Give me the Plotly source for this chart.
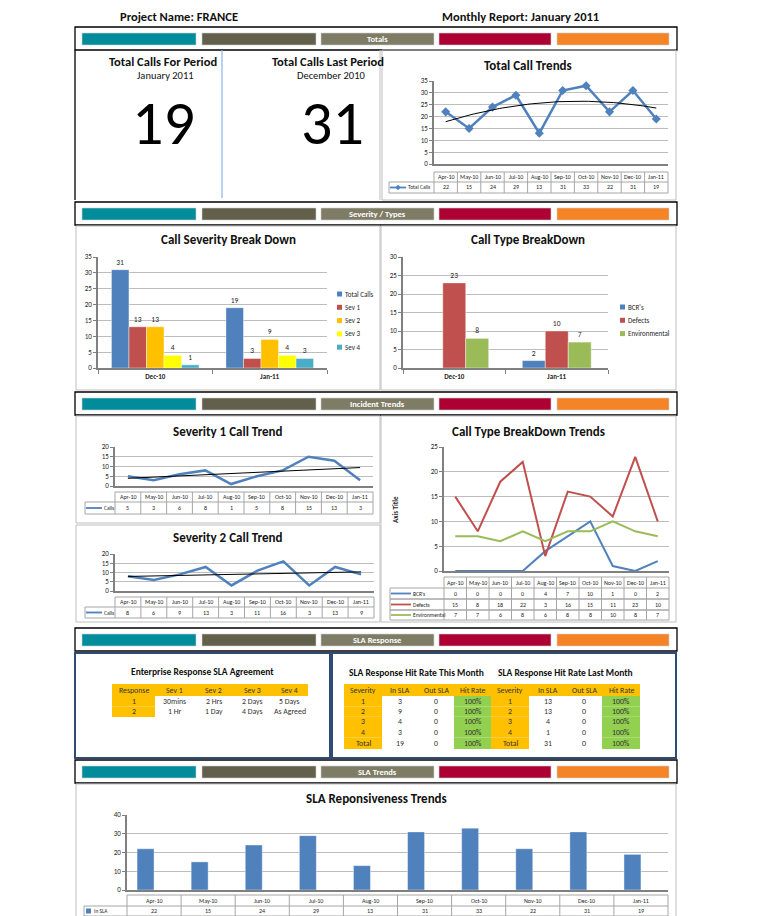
import numpy as np
import plotly.graph_objects as go

W, H = 758, 916
FONT = "Carlito, Lato, 'Open Sans', sans-serif"
TXT = "#262626"

# ---------------- data ----------------
project_name = "FRANCE"
report_month = "January 2011"
current_period = "January 2011"
last_period = "December 2010"
calls_this_period = 19
calls_last_period = 31

months = ["Apr-10", "May-10", "Jun-10", "Jul-10", "Aug-10", "Sep-10", "Oct-10", "Nov-10", "Dec-10", "Jan-11"]
total_calls = [22, 15, 24, 29, 13, 31, 33, 22, 31, 19]
sev1_calls = [5, 3, 6, 8, 1, 5, 8, 15, 13, 3]
sev2_calls = [8, 6, 9, 13, 3, 11, 16, 3, 13, 9]
bcr_calls = [0, 0, 0, 0, 4, 7, 10, 1, 0, 2]
defect_calls = [15, 8, 18, 22, 3, 16, 15, 11, 23, 10]
env_calls = [7, 7, 6, 8, 6, 8, 8, 10, 8, 7]
sla_in = [22, 15, 24, 29, 13, 31, 33, 22, 31, 19]
sla_out = [0, 0, 0, 0, 0, 0, 0, 0, 0, 0]

periods = ["Dec-10", "Jan-11"]
sev_names = ["Total Calls", "Sev 1", "Sev 2", "Sev 3", "Sev 4"]
sev_total = [31, 19]
sev_1 = [13, 3]
sev_2 = [13, 9]
sev_3 = [4, 4]
sev_4 = [1, 3]
type_names = ["BCR's", "Defects", "Environmental"]
type_bcr = [0, 2]
type_defects = [23, 10]
type_env = [8, 7]

agreement_header = ["Response", "Sev 1", "Sev 2", "Sev 3", "Sev 4"]
agreement_r1 = ["1", "30mins", "2 Hrs", "2 Days", "5 Days"]
agreement_r2 = ["2", "1 Hr", "1 Day", "4 Days", "As Agreed"]

hit_header = ["Severity", "In SLA", "Out SLA", "Hit Rate"]
hit_severity = ["1", "2", "3", "4", "Total"]
this_in = [3, 9, 4, 3, 19]
this_out = [0, 0, 0, 0, 0]
this_rate = ["100%", "100%", "100%", "100%", "100%"]
last_in = [13, 13, 4, 1, 31]
last_out = [0, 0, 0, 0, 0]
last_rate = ["100%", "100%", "100%", "100%", "100%"]

section_names = ["Totals", "Severity / Types", "Incident Trends", "SLA Response", "SLA Trends"]

# ---------------- styles ----------------
BLUE = "#4F81BD"
RED = "#C0504D"
GREEN = "#9BBB59"
ORANGE = "#FFC000"
YELLOW = "#FFFF00"
CYAN = "#4BACC6"
LIME = "#92D050"
GRID = "#BDBDBD"
AXIS = "#808080"
TBL = "#A6A6A6"
PANEL = "#BFBFBF"
NAVY = "#2F4A73"
BAND_COLORS = ["#008C9B", "#625F4A", "#7F7C65", "#AD0033", "#F58426"]
BAND_X = [(82, 196), (202, 316), (321, 434), (439, 551), (557, 669)]
TITLE = 13

shapes = []
annots = []
layout = {}


def X(p):
    return p / W


def Y(p):
    return 1 - p / H


def rect(x0, y0, x1, y1, fill=None, line=None, lw=1.0):
    shapes.append(dict(type="rect", xref="paper", yref="paper",
                       x0=X(x0), x1=X(x1), y0=Y(y1), y1=Y(y0),
                       fillcolor=fill if fill else "rgba(0,0,0,0)",
                       line=dict(color=line if line else "rgba(0,0,0,0)", width=lw if line else 0)))


def seg(x0, y0, x1, y1, color, w=1.0):
    shapes.append(dict(type="line", xref="paper", yref="paper",
                       x0=X(x0), x1=X(x1), y0=Y(y0), y1=Y(y1),
                       line=dict(color=color, width=w)))


def txt(x, y, s, size, bold=False, color=TXT, anchor="center", xref="paper", angle=0):
    annots.append(dict(x=X(x) if xref == "paper" else x, y=Y(y), xref=xref, yref="paper",
                       text=f"<b>{s}</b>" if bold else s, showarrow=False,
                       font=dict(size=size, color=color, family=FONT),
                       xanchor=anchor, yanchor="middle", textangle=angle, borderpad=0))


def band(y0, label):
    rect(75, y0, 677, y0 + 23, line="#000000", lw=1.3)
    for (a, b), c in zip(BAND_X, BAND_COLORS):
        rect(a, y0 + 6, b, y0 + 18, fill=c, line="#D0D0D0", lw=0.6)
    txt(377.5, y0 + 12, label, 8.5, bold=True, color="white")


def make_axes(n, x0, x1, y0, y1, yrange, dtick, cats=None):
    k = "" if n == 1 else str(n)
    xa = dict(domain=[X(x0), X(x1)], anchor="y" + k, showgrid=False, zeroline=False,
              showline=True, linecolor=AXIS, linewidth=2.2, fixedrange=True, automargin=False)
    if cats is None:
        xa.update(type="linear", range=[-0.5, 9.5], showticklabels=False, ticks="")
    else:
        xa.update(type="category", tickson="boundaries", ticks="outside", ticklen=4,
                  tickcolor=AXIS, tickwidth=1, range=[-0.5, len(cats) - 0.5],
                  tickfont=dict(size=7, color=TXT, family=FONT, weight="bold"))
    ya = dict(domain=[Y(y1), Y(y0)], anchor="x" + k, range=yrange, dtick=dtick, tick0=0,
              showgrid=True, gridcolor=GRID, gridwidth=1.4, zeroline=False,
              showline=True, linecolor=AXIS, linewidth=1.5, ticks="outside", ticklen=3,
              tickcolor=AXIS, tickfont=dict(size=7, color=TXT, family=FONT),
              fixedrange=True, automargin=False)
    layout["xaxis" + k] = xa
    layout["yaxis" + k] = ya
    return "x" + k, "y" + k


def legend_key(lx0, yc, label, color, key, L=17):
    if key == "square":
        rect(lx0 + 2, yc - 2.5, lx0 + 7, yc + 2.5, fill=color)
        txt(lx0 + 8.5, yc, label, 5.5, anchor="left")
        return
    seg(lx0 + 1, yc, lx0 + L, yc, color, 1.8)
    if key == "diamond":
        cx = lx0 + 1 + (L - 1) / 2
        d = 2.4
        shapes.append(dict(type="path", xref="paper", yref="paper",
                           path=f"M {X(cx)},{Y(yc - d)} L {X(cx + d)},{Y(yc)} L {X(cx)},{Y(yc + d)} L {X(cx - d)},{Y(yc)} Z",
                           fillcolor=color, line=dict(color=color, width=0.5)))
    txt(lx0 + L + 0.5, yc, label, 5.5, anchor="left")


def data_table(xref, x0, x1, lx0, yh0, yh1, row_specs, cats, L=17):
    n = len(cats)
    cw = (x1 - x0) / n
    ybot = row_specs[-1][1]
    seg(x0, yh0, x1, yh0, TBL, 1)
    for ya, yb, *_ in row_specs:
        seg(lx0, ya, x1, ya, TBL, 1)
        seg(lx0, yb, x1, yb, TBL, 1)
    for i in range(n + 1):
        seg(x0 + i * cw, yh0, x0 + i * cw, ybot, TBL, 1)
    seg(lx0, row_specs[0][0], lx0, ybot, TBL, 1)
    for i, c in enumerate(cats):
        txt(i, (yh0 + yh1) / 2, c, 6, xref=xref)
    for ya, yb, label, vals, color, key in row_specs:
        yc = (ya + yb) / 2
        for i, v in enumerate(vals):
            txt(i, yc, str(v), 6, xref=xref)
        legend_key(lx0, yc, label, color, key, L)


def cell_table(xs, ys, rows, fills, size=7.8):
    for r, row in enumerate(rows):
        for c, val in enumerate(row):
            if fills[r][c]:
                rect(xs[c], ys[r], xs[c + 1], ys[r + 1], fill=fills[r][c])
            txt((xs[c] + xs[c + 1]) / 2, (ys[r] + ys[r + 1]) / 2, str(val), size, color="#333333")


fig = go.Figure()
idx = list(range(len(months)))

# ---------------- header ----------------
txt(179, 16, "Project Name: " + project_name, 12.5, bold=True, color="#111111")
txt(520, 16, "Monthly Report: " + report_month, 12.5, bold=True, color="#111111")

band_y = [27, 202, 392, 628, 760]
for yb, name in zip(band_y, section_names):
    band(yb, name)

# ---------------- totals panel ----------------
seg(75, 50, 75, 200, "#000000", 1.3)
seg(222, 50, 222, 198, "#8DB4E2", 1.2)
seg(380, 50, 380, 200, PANEL, 1)
rect(382, 50, 676, 200, line=PANEL, lw=1)
txt(163, 61, "Total Calls For Period", 12.5, bold=True, color="#111111")
txt(165, 75.5, current_period, 10.5, color="#111111")
txt(328, 61, "Total Calls Last Period", 12.5, bold=True, color="#111111")
txt(331, 75.5, last_period, 10.5, color="#111111")
txt(163, 123, str(calls_this_period), 62, color="#000000")
txt(332, 123, str(calls_last_period), 62, color="#000000")

# Total call trends
txt(528, 65, "Total Call Trends", TITLE, bold=True, color="#111111")
xa, ya = make_axes(1, 434, 668, 81, 164, [0, 35], 5)
fig.add_trace(go.Scatter(x=idx, y=total_calls, mode="lines+markers",
                         line=dict(color=BLUE, width=2.5),
                         marker=dict(symbol="diamond", size=7, color=BLUE),
                         xaxis=xa, yaxis=ya, showlegend=False))
xs = np.linspace(0, len(months) - 1, 60)
coef = np.polyfit(idx, total_calls, 2)
fig.add_trace(go.Scatter(x=xs, y=np.polyval(coef, xs), mode="lines",
                         line=dict(color="#000000", width=1), xaxis=xa, yaxis=ya, showlegend=False))
data_table(xa, 434, 668, 389, 172, 182, [(182, 193, "Total Calls", total_calls, BLUE, "diamond")], months, L=17)

# ---------------- severity / types ----------------
rect(76, 226, 380, 390, line=PANEL)
rect(381, 226, 676, 390, line=PANEL)

txt(228, 240, "Call Severity Break Down", TITLE, bold=True, color="#111111")
xa, ya = make_axes(2, 98, 327, 257, 368, [0, 35], 5, periods)
sev_series = [sev_total, sev_1, sev_2, sev_3, sev_4]
sev_colors = [BLUE, RED, ORANGE, YELLOW, CYAN]
bw = 0.153
for i, (name, vals, col) in enumerate(zip(sev_names, sev_series, sev_colors)):
    fig.add_trace(go.Bar(x=periods, y=vals, name=name, width=bw, offset=-2.5 * bw + i * bw,
                         marker=dict(color=col, line=dict(color="rgba(255,255,255,0.7)", width=0.6)),
                         text=[str(v) for v in vals], textposition="outside", constraintext="none",
                         textfont=dict(size=7.5, color=TXT, family=FONT), cliponaxis=False,
                         xaxis=xa, yaxis=ya, showlegend=False))
for i, (name, col) in enumerate(zip(sev_names, sev_colors)):
    yc = 294 + i * 13.3
    rect(337, yc - 2.5, 342, yc + 2.5, fill=col)
    txt(344, yc, name, 7, anchor="left")

txt(528, 240, "Call Type BreakDown", TITLE, bold=True, color="#111111")
xa, ya = make_axes(3, 403, 608, 257, 368, [0, 30], 5, periods)
type_series = [type_bcr, type_defects, type_env]
type_colors = [BLUE, RED, GREEN]
bw = 0.224
for i, (name, vals, col) in enumerate(zip(type_names, type_series, type_colors)):
    fig.add_trace(go.Bar(x=periods, y=vals, name=name, width=bw, offset=-1.5 * bw + i * bw,
                         marker=dict(color=col, line=dict(color="rgba(255,255,255,0.7)", width=0.6)),
                         text=[str(v) if v else "" for v in vals], textposition="outside",
                         constraintext="none",
                         textfont=dict(size=7.5, color=TXT, family=FONT), cliponaxis=False,
                         xaxis=xa, yaxis=ya, showlegend=False))
for i, (name, col) in enumerate(zip(type_names, type_colors)):
    yc = 307 + i * 13.3
    rect(620, yc - 2.5, 625, yc + 2.5, fill=col)
    txt(626.5, yc, name, 7, anchor="left")

# ---------------- incident trends ----------------
rect(76, 416, 380, 523, line=PANEL)
rect(76, 525, 380, 622, line=PANEL)
rect(381, 416, 676, 622, line=PANEL)

txt(228, 431, "Severity 1 Call Trend", TITLE, bold=True, color="#111111")
xa, ya = make_axes(4, 115, 373, 447, 486, [0, 20], 5)
fig.add_trace(go.Scatter(x=idx, y=sev1_calls, mode="lines", line=dict(color=BLUE, width=2.5),
                         xaxis=xa, yaxis=ya, showlegend=False))
c1 = np.polyfit(idx, sev1_calls, 1)
fig.add_trace(go.Scatter(x=[0, 9], y=np.polyval(c1, [0, 9]), mode="lines",
                         line=dict(color="#000000", width=1), xaxis=xa, yaxis=ya, showlegend=False))
data_table(xa, 115, 373, 85, 492, 502, [(502, 514, "Calls", sev1_calls, BLUE, "line")], months, L=17)

txt(228, 537, "Severity 2 Call Trend", TITLE, bold=True, color="#111111")
xa, ya = make_axes(5, 115, 374, 554, 591, [0, 20], 5)
fig.add_trace(go.Scatter(x=idx, y=sev2_calls, mode="lines", line=dict(color=BLUE, width=2.5),
                         xaxis=xa, yaxis=ya, showlegend=False))
c2 = np.polyfit(idx, sev2_calls, 1)
fig.add_trace(go.Scatter(x=[0, 9], y=np.polyval(c2, [0, 9]), mode="lines",
                         line=dict(color="#000000", width=1), xaxis=xa, yaxis=ya, showlegend=False))
data_table(xa, 115, 374, 85, 597, 607, [(607, 618, "Calls", sev2_calls, BLUE, "line")], months, L=17)

txt(528, 431, "Call Type BreakDown Trends", TITLE, bold=True, color="#111111")
xa, ya = make_axes(6, 444, 669, 447, 571, [0, 25], 5)
for vals, col in zip([bcr_calls, defect_calls, env_calls], type_colors):
    fig.add_trace(go.Scatter(x=idx, y=vals, mode="lines", line=dict(color=col, width=2),
                             xaxis=xa, yaxis=ya, showlegend=False))
txt(395, 510, "Axis Title", 7, bold=True, angle=-90)
data_table(xa, 444, 669, 390, 577, 588,
           [(588, 599, type_names[0], bcr_calls, BLUE, "line"),
            (599, 610, type_names[1], defect_calls, RED, "line"),
            (610, 620, type_names[2], env_calls, GREEN, "line")], months, L=21)

# ---------------- SLA response ----------------
rect(75, 653, 330, 758, line=NAVY, lw=2)
rect(332, 653, 676, 758, line=NAVY, lw=2)

txt(202, 672, "Enterprise Response SLA Agreement", 9.5, bold=True, color="#111111")
ag_xs = [112, 155, 194, 233, 271, 308]
ag_ys = [684, 696, 706.4, 717]
ag_rows = [agreement_header, agreement_r1, agreement_r2]
ag_fills = [[ORANGE] * 5, [ORANGE, None, None, None, None], [ORANGE, None, None, None, None]]
cell_table(ag_xs, ag_ys, ag_rows, ag_fills)

txt(416, 673, "SLA Response Hit Rate This Month", 9.5, bold=True, color="#111111")
txt(565, 673, "SLA Response Hit Rate Last Month", 9.5, bold=True, color="#111111")
hit_ys = [684, 696, 706.5, 716.8, 727, 737.5, 749]
hit_fills = [[ORANGE] * 4] + [[ORANGE, None, None, LIME] for _ in hit_severity]
rows_this = [hit_header] + [[s, a, b, r] for s, a, b, r in zip(hit_severity, this_in, this_out, this_rate)]
rows_last = [hit_header] + [[s, a, b, r] for s, a, b, r in zip(hit_severity, last_in, last_out, last_rate)]
cell_table([344, 382, 418, 454, 491], hit_ys, rows_this, hit_fills)
cell_table([491, 529, 566, 602, 640], hit_ys, rows_last, hit_fills)

# ---------------- SLA trends ----------------
rect(76, 784, 676, 930, line=PANEL)
txt(376, 798, "SLA Reponsiveness Trends", TITLE, bold=True, color="#111111")
xa, ya = make_axes(7, 127, 668, 815, 890, [0, 40], 10)
bw = 0.314
fig.add_trace(go.Bar(x=idx, y=sla_in, width=bw, offset=-bw, name="In SLA",
                     marker=dict(color=BLUE, line=dict(color="rgba(255,255,255,0.7)", width=0.6)),
                     xaxis=xa, yaxis=ya, showlegend=False))
fig.add_trace(go.Bar(x=idx, y=sla_out, width=bw, offset=0, name="Out SLA",
                     marker=dict(color=RED), xaxis=xa, yaxis=ya, showlegend=False))
data_table(xa, 127, 668, 84, 895, 906, [(906, 916, "In SLA", sla_in, BLUE, "square")], months)

fig.update_layout(
    width=W, height=H, margin=dict(l=0, r=0, t=0, b=0),
    template="none", paper_bgcolor="white", plot_bgcolor="rgba(0,0,0,0)",
    showlegend=False, barmode="overlay",
    font=dict(family=FONT, size=8, color=TXT),
    shapes=shapes, annotations=annots, **layout,
)
fig.write_html("out.html", config={"displayModeBar": False},
               post_script="document.body.style.margin='0px';document.body.style.overflow='hidden';")
